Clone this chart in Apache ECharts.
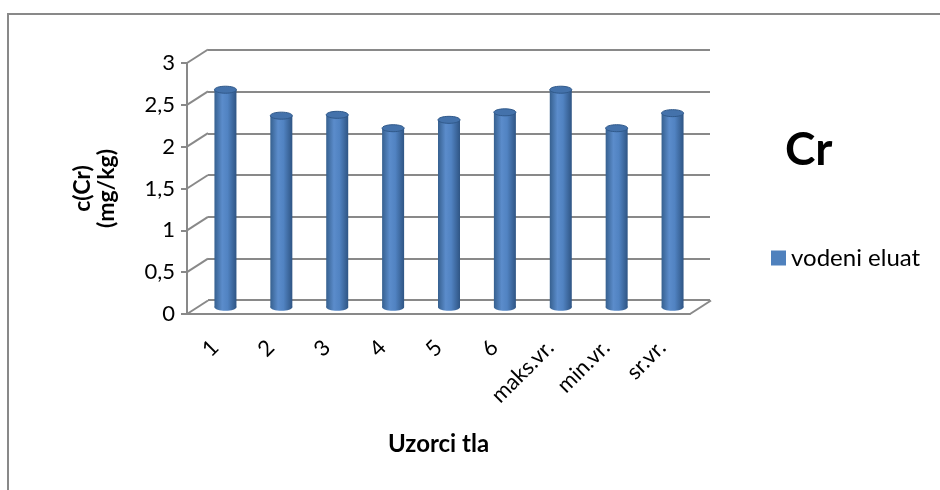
<!DOCTYPE html>
<html>
<head>
<meta charset="utf-8">
<script src="https://cdn.jsdelivr.net/npm/echarts@6/dist/echarts.min.js"></script>
<style>
  html, body { margin: 0; padding: 0; background: #fff; }
  #chart { width: 940px; height: 490px; }
</style>
</head>
<body>
<div id="chart"></div>
<script>
// podaci
var categories = ['1', '2', '3', '4', '5', '6', 'maks.vr.', 'min.vr.', 'sr.vr.'];
var values = [2.6, 2.29, 2.3, 2.14, 2.24, 2.33, 2.6, 2.14, 2.32];
var yTicks = [0, 0.5, 1, 1.5, 2, 2.5, 3];
var seriesName = 'vodeni eluat';

// 3D pomak (dubina) izmedju prednje osi i zadnjeg zida
var DX = 21;
var DY = -13.5;
var FONT = 'Lato, "Open Sans", sans-serif';
var GRAY = '#898989';

var chart = echarts.init(document.getElementById('chart'));

// dijagonale od prednje osi do zadnjeg zida
function renderDiag (params, api) {
  var cs = params.coordSys;
  var y = api.coord([0, api.value(0)])[1];
  var x0 = cs.x;
  var children = [{
    type: 'line',
    shape: { x1: x0, y1: y, x2: x0 + DX, y2: y + DY },
    style: { stroke: GRAY, lineWidth: 2 }
  }];
  if (api.value(0) === 0) {
    children.push({
      type: 'line',
      shape: { x1: cs.x + cs.width, y1: y, x2: cs.x + cs.width + DX, y2: y + DY },
      style: { stroke: GRAY, lineWidth: 2 }
    });
  }
  return { type: 'group', children: children };
}

// valjci
function renderBar (params, api) {
  var i = api.value(0);
  var top = api.coord([i, api.value(1)]);
  var base = api.coord([i, 0]);
  var cx = top[0] + DX / 2;
  var topY = top[1] + DY / 2;
  var botY = base[1] + DY / 2;
  var rx = 11;
  var ry = 3.5;
  var bodyFill = new echarts.graphic.LinearGradient(0, 0, 1, 0, [
    { offset: 0, color: '#36608f' },
    { offset: 0.35, color: '#5b8ccb' },
    { offset: 0.6, color: '#5183c2' },
    { offset: 1, color: '#2f5584' }
  ]);
  return {
    type: 'group',
    children: [
      {
        type: 'ellipse',
        shape: { cx: cx, cy: botY, rx: rx, ry: ry },
        style: { fill: bodyFill }
      },
      {
        type: 'rect',
        shape: { x: cx - rx, y: topY, width: rx * 2, height: botY - topY },
        style: { fill: bodyFill }
      },
      {
        type: 'ellipse',
        shape: { cx: cx, cy: topY, rx: rx, ry: ry },
        style: { fill: '#4472ab', stroke: '#30598a', lineWidth: 1 }
      }
    ]
  };
}

var option = {
  backgroundColor: '#fff',
  animation: false,
  textStyle: { fontFamily: FONT },
  title: {
    text: 'Cr',
    left: 780,
    top: 122,
    textStyle: { fontSize: 46, fontWeight: 'bold', color: '#000', fontFamily: FONT }
  },
  legend: {
    data: [seriesName],
    left: 771,
    top: 246,
    padding: 0,
    icon: 'rect',
    itemWidth: 15,
    itemHeight: 15,
    itemGap: 6,
    textStyle: { fontSize: 24, color: '#000', fontFamily: FONT }
  },
  graphic: [{
    type: 'rect',
    shape: { x: 8, y: 14, width: 1000, height: 1000 },
    style: { fill: 'none', stroke: GRAY, lineWidth: 2 },
    silent: true
  }],
  grid: [
    // zadnji zid
    { left: 208, top: 50, width: 502, height: 250 },
    // prednja os
    { left: 187, top: 63, width: 503, height: 251 }
  ],
  xAxis: [
    {
      type: 'category',
      gridIndex: 0,
      data: categories,
      axisLine: { show: false },
      axisTick: { show: false },
      axisLabel: { show: false }
    },
    {
      type: 'category',
      gridIndex: 1,
      data: categories,
      name: 'Uzorci tla',
      nameLocation: 'middle',
      nameGap: 118,
      nameTextStyle: { fontSize: 24, fontWeight: 'bold', color: '#000', fontFamily: FONT },
      axisLine: { lineStyle: { color: GRAY, width: 2 } },
      axisTick: { length: 6, lineStyle: { color: GRAY, width: 2 } },
      axisLabel: { rotate: 45, fontSize: 22, color: '#000', margin: 30, interval: 0, fontFamily: FONT }
    }
  ],
  yAxis: [
    {
      type: 'value',
      gridIndex: 0,
      min: 0,
      max: 3,
      interval: 0.5,
      axisLine: { show: false },
      axisTick: { show: false },
      axisLabel: { show: false },
      splitLine: { lineStyle: { color: GRAY, width: 2 } }
    },
    {
      type: 'value',
      gridIndex: 1,
      min: 0,
      max: 3,
      interval: 0.5,
      name: 'c(Cr)\n(mg/kg)',
      nameLocation: 'middle',
      nameRotate: 90,
      nameGap: 68,
      nameTextStyle: { fontSize: 23, fontWeight: 'bold', color: '#000', lineHeight: 24, fontFamily: FONT },
      axisLine: { show: true, lineStyle: { color: GRAY, width: 2 } },
      axisTick: { show: true, length: 6, lineStyle: { color: GRAY, width: 2 } },
      axisLabel: {
        fontSize: 22,
        color: '#000',
        margin: 12,
        fontFamily: FONT,
        formatter: function (v) { return String(v).replace('.', ',') }
      },
      splitLine: { show: false }
    }
  ],
  series: [
    {
      type: 'custom',
      name: 'diag',
      xAxisIndex: 1,
      yAxisIndex: 1,
      silent: true,
      renderItem: renderDiag,
      data: yTicks.map(function (v) { return [v] }),
      encode: { y: 0 }
    },
    {
      type: 'custom',
      name: seriesName,
      xAxisIndex: 1,
      yAxisIndex: 1,
      silent: true,
      itemStyle: { color: '#4f81bd' },
      renderItem: renderBar,
      data: values.map(function (v, i) { return [i, v] }),
      encode: { x: 0, y: 1 }
    }
  ]
};

chart.setOption(option);
</script>
</body>
</html>
